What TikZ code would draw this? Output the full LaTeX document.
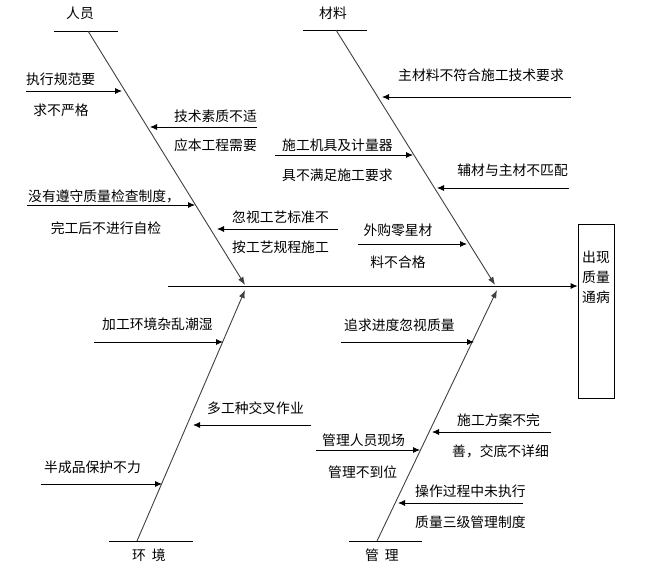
\documentclass[tikz,border=0pt]{standalone}
\usepackage{fontspec}
\setmainfont{Noto Sans CJK SC}
\usetikzlibrary{arrows.meta}
\begin{document}
\begin{tikzpicture}[x=1pt,y=-1pt,
  line/.style={line width=0.8pt},
  arr/.style={line width=0.8pt,-{Latex[length=7pt,width=6pt]}},
  bone/.style={line width=0.9pt,black!75,-{Latex[length=8pt,width=6pt]}},
  lbl/.style={inner sep=0pt,font=\fontsize{13.8}{16}\selectfont}]
\useasboundingbox (0,0) rectangle (650,576);
% result box
\node[draw,line width=0.8pt,minimum width=36pt,minimum height=174pt,inner sep=0pt] (res) at (596,311) {};
\node[lbl,align=center,font=\fontsize{13.8}{20}\selectfont] (restxt) at (596,277) {出现\\质量\\通病};
% spine
\coordinate (spL) at (168,286);
\draw[arr] (spL) -- (spL -| res.west);
% ---- person
\node[lbl] (pLab) at (80,13) {人员};
\coordinate (pL) at (54,31); \coordinate (pR) at (118,31);
\draw[line] (pL) -- (pR);
\coordinate (pTop) at (88,31); \coordinate (pTip) at (245,285);
\draw[bone] (pTop) -- (pTip);
\coordinate (a1s) at (26,91); \coordinate (a1t) at (122,91);
\draw[arr] (a1s) -- (a1t);
\node[lbl,anchor=west] (a1u) at (26,79) {执行规范要};
\node[lbl] (a1d) at (61,110) {求不严格};
\coordinate (a2s) at (257,127); \coordinate (a2t) at (150,127);
\draw[arr] (a2s) -- (a2t);
\node[lbl,anchor=east] (a2u) at (257,116) {技术素质不适};
\node[lbl,anchor=east] (a2d) at (257,145) {应本工程需要};
\coordinate (a3s) at (27,205); \coordinate (a3t) at (195,205);
\draw[arr] (a3s) -- (a3t);
\node[lbl,anchor=west] (a3u) at (28,196) {没有遵守质量检查制度，};
\node[lbl] (a3d) at (106,228) {完工后不进行自检};
\coordinate (a4s) at (338,229); \coordinate (a4t) at (217,229);
\draw[arr] (a4s) -- (a4t);
\node[lbl,anchor=west] (a4u) at (232,217) {忽视工艺标准不};
\node[lbl,anchor=west] (a4d) at (232,247) {按工艺规程施工};
% ---- material
\node[lbl] (mLab) at (333,13) {材料};
\coordinate (mL) at (303,30); \coordinate (mR) at (367,30);
\draw[line] (mL) -- (mR);
\coordinate (mTop) at (336,30); \coordinate (mTip) at (495,285);
\draw[bone] (mTop) -- (mTip);
\coordinate (b1s) at (571,97); \coordinate (b1t) at (382,97);
\draw[arr] (b1s) -- (b1t);
\node[lbl] (b1u) at (481,75) {主材料不符合施工技术要求};
\coordinate (b2s) at (275,155); \coordinate (b2t) at (413,155);
\draw[arr] (b2s) -- (b2t);
\node[lbl,anchor=west] (b2u) at (282,145) {施工机具及计量器};
\node[lbl,anchor=west] (b2d) at (282,175) {具不满足施工要求};
\coordinate (b3s) at (569,188); \coordinate (b3t) at (437,188);
\draw[arr] (b3s) -- (b3t);
\node[lbl,anchor=east] (b3u) at (568,170) {辅材与主材不匹配};
\coordinate (b4s) at (358,244); \coordinate (b4t) at (467,244);
\draw[arr] (b4s) -- (b4t);
\node[lbl] (b4u) at (398,230) {外购零星材};
\node[lbl] (b4d) at (398,262) {料不合格};
% ---- environment
\node[lbl] (eLab) at (149,555) {环\hspace{6pt}境};
\coordinate (eL) at (109,541); \coordinate (eR) at (193,541);
\draw[line] (eL) -- (eR);
\coordinate (eBot) at (137,541); \coordinate (eTip) at (245,290);
\draw[bone] (eBot) -- (eTip);
\coordinate (c1s) at (94,342); \coordinate (c1t) at (223,342);
\draw[arr] (c1s) -- (c1t);
\node[lbl,anchor=west] (c1u) at (102,324) {加工环境杂乱潮湿};
\coordinate (c2s) at (311,425); \coordinate (c2t) at (193,425);
\draw[arr] (c2s) -- (c2t);
\node[lbl,anchor=west] (c2u) at (207,408) {多工种交叉作业};
\coordinate (c3s) at (41,484); \coordinate (c3t) at (162,484);
\draw[arr] (c3s) -- (c3t);
\node[lbl,anchor=west] (c3u) at (44,467) {半成品保护不力};
% ---- management
\node[lbl] (gLab) at (382,555) {管\hspace{6pt}理};
\coordinate (gL) at (349,541); \coordinate (gR) at (422,541);
\draw[line] (gL) -- (gR);
\coordinate (gBot) at (377,541); \coordinate (gTip) at (497,290);
\draw[bone] (gBot) -- (gTip);
\coordinate (d1s) at (341,342); \coordinate (d1t) at (474,342);
\draw[arr] (d1s) -- (d1t);
\node[lbl,anchor=west] (d1u) at (344,325) {追求进度忽视质量};
\coordinate (d2s) at (551,432); \coordinate (d2t) at (432,432);
\draw[arr] (d2s) -- (d2t);
\node[lbl,anchor=west] (d2u) at (457,420) {施工方案不完};
\node[lbl,anchor=west] (d2d) at (452,451) {善，交底不详细};
\coordinate (d3s) at (316,450); \coordinate (d3t) at (420,450);
\draw[arr] (d3s) -- (d3t);
\node[lbl,anchor=west] (d3u) at (322,440) {管理人员现场};
\node[lbl,anchor=west] (d3d) at (328,472) {管理不到位};
\coordinate (d4s) at (523,503); \coordinate (d4t) at (398,503);
\draw[arr] (d4s) -- (d4t);
\node[lbl,anchor=west] (d4u) at (415,491) {操作过程中未执行};
\node[lbl,anchor=west] (d4d) at (415,522) {质量三级管理制度};
\end{tikzpicture}
\end{document}
